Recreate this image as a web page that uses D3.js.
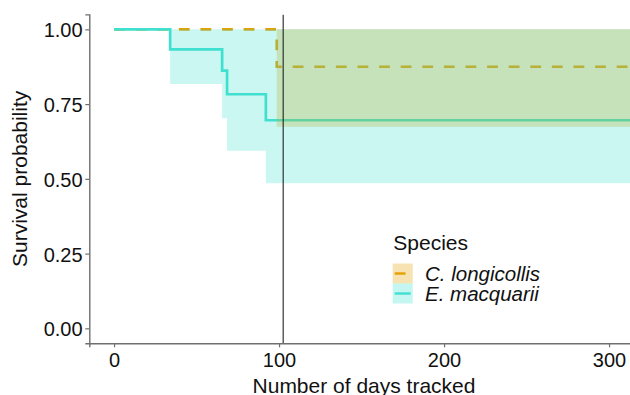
<!DOCTYPE html>
<html>
<head>
<meta charset="utf-8">
<script src="https://cdn.jsdelivr.net/npm/d3@7"></script>
<style>
  body { margin: 0; background: #fff; }
  svg { display: block; font-family: "Liberation Sans", Arial, sans-serif; }
</style>
</head>
<body>
<div id="chart"></div>
<script>
// Kaplan-Meier steps
const macTimes = [0, 34, 65.5, 68.5, 92, 316];
const macSurv = [1, 0.933, 0.862, 0.783, 0.696];
const macLower = [1, 0.817, 0.703, 0.594, 0.485];
const macUpper = [1, 1, 1, 1, 1];

const lonTimes = [0, 98.6, 316];
const lonSurv = [1, 0.875];
const lonLower = [1, 0.674];
const lonUpper = [1, 1];

const speciesNames = ["C. longicollis", "E. macquarii"];
const speciesColors = ["#E69F00", "#40E0D0"];

const xTicks = [0, 100, 200, 300];
const yTicks = [0, 0.25, 0.5, 0.75, 1];
const vlineDay = 102.5;

const width = 630, height = 395;

// build step points: one per interval plus the end point
function steps(times, surv, lower, upper) {
    let pts = [];
    for (let i = 0; i < surv.length; i++) {
        pts.push({ t: times[i], s: surv[i], lo: lower[i], hi: upper[i] });
    }
    let last = surv.length - 1;
    pts.push({ t: times[times.length - 1], s: surv[last], lo: lower[last], hi: upper[last] });
    return pts;
}
const lonData = steps(lonTimes, lonSurv, lonLower, lonUpper);
const macData = steps(macTimes, macSurv, macLower, macUpper);

const svg = d3.select("#chart").append("svg")
    .attr("width", width)
    .attr("height", height);

// panel with ggplot style 5% expansion
let x = d3.scaleLinear()
    .domain([-15, 330])
    .range([89.3, 89.3 + 345 * 1.65]);
let y = d3.scaleLinear()
    .domain([-0.05, 1.05])
    .range([343.3, 14.4]);

svg.append("clipPath").attr("id", "panel")
    .append("rect")
    .attr("x", x(-15)).attr("y", y(1.05))
    .attr("width", width - x(-15)).attr("height", y(-0.05) - y(1.05));

let plot = svg.append("g").attr("clip-path", "url(#panel)");

let line = d3.line()
    .curve(d3.curveStepAfter)
    .x(d => x(d.t))
    .y(d => y(d.s));

let band = d3.area()
    .curve(d3.curveStepAfter)
    .x(d => x(d.t))
    .y0(d => y(d.lo))
    .y1(d => y(d.hi));

// lines first, bands laid over them
plot.append("path")
    .datum(lonData)
    .attr("fill", "none")
    .attr("stroke", speciesColors[0])
    .attr("stroke-width", 2.7)
    .attr("stroke-dasharray", "10.8,10.8")
    .attr("d", line);

plot.append("path")
    .datum(macData)
    .attr("fill", "none")
    .attr("stroke", speciesColors[1])
    .attr("stroke-width", 2.7)
    .attr("d", line);

plot.append("path")
    .datum(lonData)
    .attr("fill", speciesColors[0])
    .attr("fill-opacity", 0.3)
    .attr("d", band);

plot.append("path")
    .datum(macData)
    .attr("fill", speciesColors[1])
    .attr("fill-opacity", 0.27)
    .attr("d", band);

plot.append("line")
    .attr("x1", x(vlineDay)).attr("x2", x(vlineDay))
    .attr("y1", y(1.05)).attr("y2", y(-0.05))
    .attr("stroke", "#222")
    .attr("stroke-width", 1.1);

// axes
let xAxis = d3.axisBottom(x)
    .tickValues(xTicks)
    .tickFormat(d3.format("d"))
    .tickSize(4)
    .tickPadding(5.5);

let gx = svg.append("g")
    .attr("transform", "translate(0," + y(-0.05) + ")")
    .call(xAxis);

let yAxis = d3.axisLeft(y)
    .tickValues(yTicks)
    .tickFormat(d3.format(".2f"))
    .tickSize(4)
    .tickPadding(2.7);

let gy = svg.append("g")
    .attr("transform", "translate(" + x(-15) + ",0)")
    .call(yAxis);

[gx, gy].forEach(g => {
    g.select(".domain").attr("stroke", "#6f6f6f").attr("stroke-width", 1.4);
    g.selectAll(".tick line").attr("stroke", "#6f6f6f").attr("stroke-width", 1.2);
    g.selectAll(".tick text")
        .attr("fill", "#111")
        .style("font-size", "20px")
        .style("font-family", "'Liberation Sans', Arial, sans-serif");
});
gy.selectAll(".tick text").attr("dy", "0.38em");

// axis titles
svg.append("text")
    .attr("x", 364)
    .attr("y", 393)
    .attr("text-anchor", "middle")
    .style("font-size", "21px")
    .attr("fill", "#111")
    .text("Number of days tracked");

svg.append("text")
    .attr("transform", "translate(26.5," + (y(-0.05) + y(1.05)) / 2 + ") rotate(-90)")
    .attr("text-anchor", "middle")
    .style("font-size", "21px")
    .attr("fill", "#111")
    .text("Survival probability");

// legend
let legend = svg.append("g").attr("transform", "translate(392.7,0)");

legend.append("text")
    .attr("x", 0.6)
    .attr("y", 250)
    .style("font-size", "21px")
    .attr("fill", "#111")
    .text("Species");

let keySize = 20;
speciesNames.forEach((name, i) => {
    let top = 263.5 + i * keySize;
    legend.append("rect")
        .attr("x", 0).attr("y", top)
        .attr("width", keySize).attr("height", keySize)
        .attr("fill", speciesColors[i])
        .attr("fill-opacity", 0.3);
    legend.append("line")
        .attr("x1", 2).attr("x2", keySize - 2)
        .attr("y1", top + keySize / 2).attr("y2", top + keySize / 2)
        .attr("stroke", speciesColors[i])
        .attr("stroke-width", 2.4)
        .attr("stroke-dasharray", i == 0 ? "10.8,10.8" : null);
    legend.append("text")
        .attr("x", 32.3)
        .attr("y", top + keySize / 2 + 7.4)
        .style("font-size", "20.5px")
        .style("font-style", "italic")
        .attr("fill", "#111")
        .text(name);
});
</script>
</body>
</html>
